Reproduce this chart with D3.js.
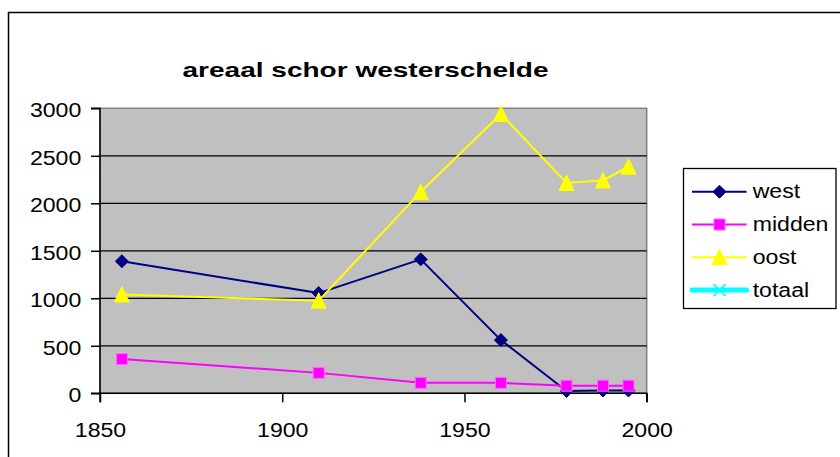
<!DOCTYPE html>
<html>
<head>
<meta charset="utf-8">
<script src="https://cdn.jsdelivr.net/npm/d3@7"></script>
<style>
  html, body { margin: 0; padding: 0; background: #fff; }
  svg { display: block; font-family: "Liberation Sans", Arial, sans-serif; }
</style>
</head>
<body>
<svg id="chart" width="840" height="457"></svg>
<script>
const title = "areaal schor westerschelde";
const years = [1856, 1910, 1938, 1960, 1978, 1988, 1995];
const west = [1390, 1055, 1410, 560, 25, 30, 30];
const midden = [360, 215, 110, 110, 80, 80, 80];
const oost = [1040, 975, 2120, 2940, 2215, 2240, 2385];
const totaal = [];
const seriesNames = ["west", "midden", "oost", "totaal"];
const xTicks = [1850, 1900, 1950, 2000];
const yTicks = [0, 500, 1000, 1500, 2000, 2500, 3000];

const svg = d3.select("#chart");
const plot = {left: 100, right: 646.7, top: 108.3, bottom: 393.3};
const x = d3.scaleLinear().domain([1850, 2000]).range([plot.left, plot.right]);
const y = d3.scaleLinear().domain([0, 3000]).range([plot.bottom, plot.top]);

// outer chart border (right/bottom off canvas)
svg.append("rect").attr("x", 8.5).attr("y", 12.5).attr("width", 900).attr("height", 600)
  .attr("fill", "#fff").attr("stroke", "#000").attr("stroke-width", 1.5);

// title
svg.append("text").attr("x", 365.5).attr("y", 77).attr("text-anchor", "middle")
  .attr("font-size", 21).attr("font-weight", "bold")
  .attr("textLength", 366).attr("lengthAdjust", "spacingAndGlyphs")
  .text(title);

// plot area
svg.append("rect").attr("x", plot.left).attr("y", plot.top)
  .attr("width", plot.right - plot.left).attr("height", plot.bottom - plot.top)
  .attr("fill", "#c0c0c0").attr("stroke", "#808080").attr("stroke-width", 1.5);

// gridlines
svg.append("g").selectAll("line").data(yTicks.filter(d => d > 0 && d < 3000)).join("line")
  .attr("x1", plot.left).attr("x2", plot.right)
  .attr("y1", d => y(d)).attr("y2", d => y(d))
  .attr("stroke", "#000").attr("stroke-width", 1.3);

// axes
const yAxis = svg.append("g").attr("transform", `translate(${plot.left},0)`)
  .call(d3.axisLeft(y).tickValues(yTicks).tickSize(9).tickPadding(8).tickFormat(d3.format("d")));
const xAxis = svg.append("g").attr("transform", `translate(0,${plot.bottom})`)
  .call(d3.axisBottom(x).tickValues(xTicks).tickSize(9).tickPadding(20).tickFormat(d3.format("d")));
[yAxis, xAxis].forEach(a => {
  a.select(".domain").attr("stroke", "#000").attr("stroke-width", 1.5);
  a.selectAll(".tick line").attr("stroke", "#000").attr("stroke-width", 1.5);
  a.selectAll(".tick text").attr("font-size", 21).attr("fill", "#000")
    .attr("font-family", "'Liberation Sans', Arial, sans-serif")
    .attr("transform", "scale(1.1,1)");
});
yAxis.selectAll(".tick text").attr("dy", "0.4em");
yAxis.select(".domain").attr("d", `M-9,${plot.top}H0V${plot.bottom}H-9`);
xAxis.select(".domain").attr("d", `M${plot.left},9V0H${plot.right}V9`);

const seriesData = [
  {name: "west", values: west, color: "#000080", marker: "diamond"},
  {name: "midden", values: midden, color: "#ff00ff", marker: "square"},
  {name: "oost", values: oost, color: "#ffff00", marker: "triangle"},
  {name: "totaal", values: totaal, color: "#00ffff", marker: "cross"}
];

function drawMarker(g, type, color, cx, cy) {
  if (type === "diamond") {
    g.append("path").attr("d", `M${cx},${cy-6.5}L${cx+6.5},${cy}L${cx},${cy+6.5}L${cx-6.5},${cy}Z`)
      .attr("fill", color).attr("stroke", color).attr("stroke-width", 1);
  } else if (type === "square") {
    g.append("rect").attr("x", cx - 5.5).attr("y", cy - 5.5).attr("width", 11).attr("height", 11)
      .attr("fill", color).attr("stroke", "#ff66ff").attr("stroke-width", 1);
  } else if (type === "triangle") {
    g.append("path").attr("d", `M${cx},${cy-8}L${cx+7.5},${cy+7.5}L${cx-7.5},${cy+7.5}Z`)
      .attr("fill", color).attr("stroke", color).attr("stroke-width", 1);
  } else if (type === "cross") {
    g.append("path").attr("d", `M${cx-6},${cy-6}L${cx+6},${cy+6}M${cx+6},${cy-6}L${cx-6},${cy+6}`)
      .attr("stroke", color).attr("stroke-width", 1.5).attr("fill", "none");
  }
}

const line = d3.line().x(d => x(d[0])).y(d => y(d[1]));
seriesData.forEach(s => {
  const pts = s.values.map((v, i) => [years[i], v]);
  if (!pts.length) return;
  const g = svg.append("g");
  g.append("path").attr("d", line(pts)).attr("fill", "none")
    .attr("stroke", s.color).attr("stroke-width", s.name === "totaal" ? 5 : 2)
    .attr("stroke-linejoin", "round");
  pts.forEach(p => drawMarker(g, s.marker, s.color, x(p[0]), y(p[1])));
});

// legend
const lg = svg.append("g");
lg.append("rect").attr("x", 683.5).attr("y", 168.5).attr("width", 152.5).attr("height", 140)
  .attr("fill", "#fff").attr("stroke", "#000").attr("stroke-width", 1.3);
seriesData.forEach((s, i) => {
  const ry = 191.7 + i * 32.8;
  lg.append("line").attr("x1", 692).attr("x2", 746.5).attr("y1", ry).attr("y2", ry)
    .attr("stroke", s.color).attr("stroke-width", s.name === "totaal" ? 5 : 2)
    .attr("stroke-linecap", s.name === "totaal" ? "round" : "butt");
  drawMarker(lg, s.marker, s.color, 719.5, ry);
  lg.append("text").attr("x", 752.7 / 1.1).attr("y", ry + 6.5).attr("font-size", 21)
    .attr("transform", "scale(1.1,1)").text(seriesNames[i]);
});
</script>
</body>
</html>
